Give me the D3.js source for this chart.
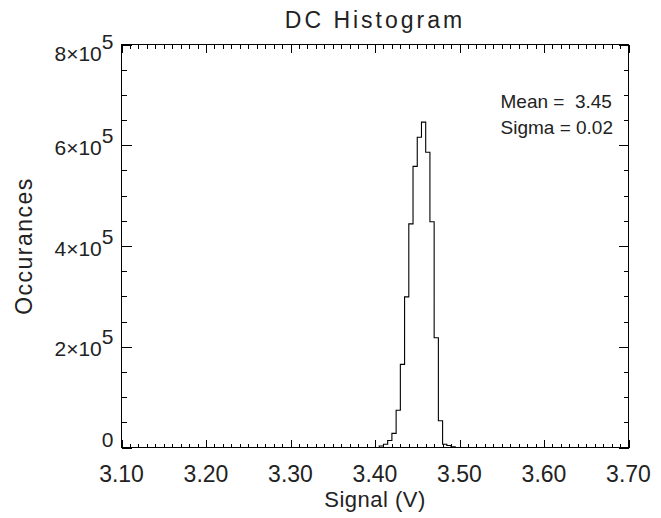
<!DOCTYPE html>
<html>
<head>
<meta charset="utf-8">
<script src="https://cdn.jsdelivr.net/npm/d3@7"></script>
<style>
  body { margin: 0; background: #fff; }
  svg { display: block; font-family: "Liberation Sans", Arial, sans-serif; }
</style>
</head>
<body>
<div class="chart"></div>
<script>
// histogram bins (left edge, V) and counts
const binEdges = [3.400, 3.405, 3.410, 3.415, 3.420, 3.425, 3.430, 3.435, 3.440, 3.445,
                  3.450, 3.455, 3.460, 3.465, 3.470, 3.475, 3.480, 3.485, 3.490];
const binCounts = [0, 3000, 6500, 14000, 28000, 74000, 165000, 299000, 444000, 558000,
                   616000, 646000, 586000, 448000, 218000, 53000, 6500, 4000, 1500];
const binWidth = 0.005;

const xTicks = [3.10, 3.20, 3.30, 3.40, 3.50, 3.60, 3.70];
const xTickLabels = ["3.10", "3.20", "3.30", "3.40", "3.50", "3.60", "3.70"];
const yTicks = [0, 2e5, 4e5, 6e5, 8e5];
const yTickBases = ["0", "2\u00d710", "4\u00d710", "6\u00d710", "8\u00d710"];
const yTickExps = ["", "5", "5", "5", "5"];
const statLines = ["Mean =  3.45", "Sigma = 0.02"];

const width = 661;
const height = 518;
const margin = { top: 44.5, right: 32.5, bottom: 70.5, left: 121.5 };
const innerWidth = width - margin.left - margin.right;
const innerHeight = height - margin.top - margin.bottom;

const svg = d3.select(".chart")
  .append("svg")
  .attr("width", width)
  .attr("height", height);

const x = d3.scaleLinear().domain([3.10, 3.70]).range([0, innerWidth]);
const y = d3.scaleLinear().domain([0, 8e5]).range([innerHeight, 0]);

const g = svg.append("g")
  .attr("transform", `translate(${margin.left},${margin.top})`);

// minor ticks
const xMinor = d3.range(3.10, 3.7001, 0.01);
const yMinor = d3.range(0, 8e5 + 1, 0.5e5);

// ticks only: drop the domain line and the labels
const tickStyle = sel => {
  sel.select(".domain").remove();
  sel.selectAll("text").remove();
  sel.selectAll("line").attr("stroke", "#000").attr("shape-rendering", "crispEdges");
};

g.append("g").attr("transform", `translate(0,${innerHeight})`)
  .call(d3.axisBottom(x).tickValues(xMinor).tickSize(-4))
  .call(tickStyle);
g.append("g")
  .call(d3.axisTop(x).tickValues(xMinor).tickSize(-4))
  .call(tickStyle);
g.append("g")
  .call(d3.axisLeft(y).tickValues(yMinor).tickSize(-5))
  .call(tickStyle);
g.append("g").attr("transform", `translate(${innerWidth},0)`)
  .call(d3.axisRight(y).tickValues(yMinor).tickSize(-5))
  .call(tickStyle);

// major ticks
g.append("g").attr("transform", `translate(0,${innerHeight})`)
  .call(d3.axisBottom(x).tickValues(xTicks).tickSize(-8))
  .call(tickStyle);
g.append("g")
  .call(d3.axisTop(x).tickValues(xTicks).tickSize(-8))
  .call(tickStyle);
g.append("g")
  .call(d3.axisLeft(y).tickValues(yTicks).tickSize(-10))
  .call(tickStyle);
g.append("g").attr("transform", `translate(${innerWidth},0)`)
  .call(d3.axisRight(y).tickValues(yTicks).tickSize(-10))
  .call(tickStyle);

// x tick labels
g.append("g").selectAll("text")
  .data(xTicks)
  .join("text")
  .attr("x", d => x(d))
  .attr("y", innerHeight + 34)
  .attr("text-anchor", "middle")
  .attr("font-size", 23)
  .attr("fill", "#222")
  .text((d, i) => xTickLabels[i]);

// y tick labels with superscript exponent
const yLab = g.append("g").selectAll("text")
  .data(yTicks)
  .join("text")
  .attr("x", -8)
  .attr("y", d => Math.min(Math.max(y(d) + 2, 9), innerHeight - 8) + 7.5)
  .attr("text-anchor", "end")
  .attr("font-size", 21)
  .attr("fill", "#222");
yLab.append("tspan").text((d, i) => yTickBases[i]);
yLab.append("tspan")
  .attr("dy", -12)
  .text((d, i) => yTickExps[i]);

// frame
g.append("rect")
  .attr("width", innerWidth)
  .attr("height", innerHeight)
  .attr("fill", "none")
  .attr("stroke", "#000")
  .attr("shape-rendering", "crispEdges");

// histogram as a step line
const pts = [[binEdges[0], 0]]
  .concat(binEdges.map((e, i) => [e, binCounts[i]]))
  .concat([[binEdges[binEdges.length - 1] + binWidth, 0]]);

const line = d3.line()
  .x(d => x(d[0]))
  .y(d => y(d[1]))
  .curve(d3.curveStepAfter);

g.append("path")
  .datum(pts)
  .attr("d", line)
  .attr("fill", "none")
  .attr("stroke", "#000")
  .attr("stroke-width", 1.1);

// stats annotation
g.append("g").selectAll("text")
  .data(statLines)
  .join("text")
  .attr("x", innerWidth - 128)
  .attr("y", (d, i) => 63 + i * 26)
  .attr("font-size", 19)
  .attr("fill", "#222")
  .style("white-space", "pre")
  .text(d => d);

// titles
svg.append("text")
  .attr("x", margin.left + innerWidth / 2)
  .attr("y", 28)
  .attr("text-anchor", "middle")
  .attr("font-size", 23)
  .attr("letter-spacing", 3)
  .attr("fill", "#222")
  .text("DC Histogram");

svg.append("text")
  .attr("x", margin.left + innerWidth / 2)
  .attr("y", 507)
  .attr("text-anchor", "middle")
  .attr("font-size", 22)
  .attr("letter-spacing", 0.5)
  .attr("fill", "#222")
  .text("Signal (V)");

svg.append("text")
  .attr("transform", `translate(32,${margin.top + innerHeight / 2}) rotate(-90)`)
  .attr("text-anchor", "middle")
  .attr("font-size", 23)
  .attr("letter-spacing", 1.5)
  .attr("fill", "#222")
  .text("Occurances");
</script>
</body>
</html>
